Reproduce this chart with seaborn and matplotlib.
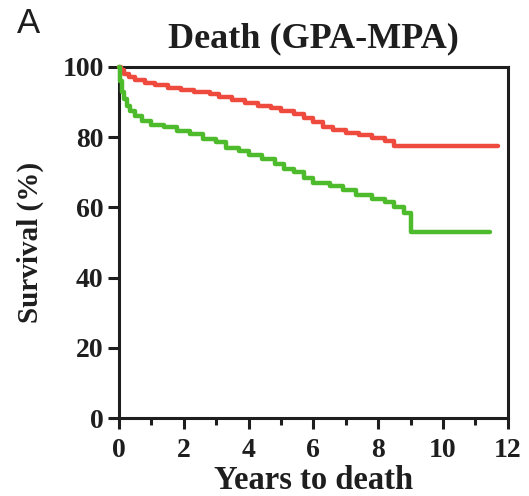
import matplotlib
matplotlib.use("Agg")
import matplotlib.pyplot as plt
import seaborn as sns
import pandas as pd
from matplotlib.ticker import MultipleLocator

sns.set_theme(style="ticks")
plt.rcParams['font.family'] = ['Liberation Serif', 'DejaVu Serif']

# Data (Kaplan-Meier step curves)
red_time = [0, 0.05, 0.15, 0.3, 0.5, 0.8, 1.1, 1.5, 1.9, 2.3, 2.8, 3.1, 3.5, 3.9, 4.3,
            4.7, 5.0, 5.4, 5.7, 6.0, 6.3, 6.6, 7.0, 7.4, 7.8, 8.2, 8.5, 11.7]
red_surv = [100, 99, 98, 97, 96.3, 95.5, 95, 94, 93.3, 92.8, 92.3, 91.5, 90.5, 89.8, 89,
            88.2, 87.5, 86.5, 85.5, 84.2, 83, 82, 81.2, 80.5, 79.8, 79, 77.6, 77.6]
green_time = [0, 0.03, 0.08, 0.15, 0.25, 0.35, 0.5, 0.7, 1.0, 1.4, 1.8, 2.2, 2.6, 3.0, 3.3,
              3.7, 4.0, 4.4, 4.8, 5.1, 5.4, 5.7, 6.0, 6.5, 6.9, 7.3, 7.8, 8.2, 8.5, 8.8,
              9.0, 11.45]
green_surv = [100, 96, 93, 91, 89, 87.5, 86, 84.5, 83.5, 82.8, 81.8, 80.8, 79.5, 78.5, 77,
              76, 75, 73.8, 72.5, 71, 70, 68.5, 67, 66.2, 65, 63.5, 62.5, 61.5, 60, 58.5,
              53, 53]
x_ticks = [0, 2, 4, 6, 8, 10, 12]
y_ticks = [0, 20, 40, 60, 80, 100]

df = pd.concat([
    pd.DataFrame({"t": red_time, "s": red_surv, "g": "red"}),
    pd.DataFrame({"t": green_time, "s": green_surv, "g": "green"}),
])

fig = plt.figure(figsize=(5.29, 4.96), dpi=100)
ax = fig.add_axes([0.225, 0.157, 0.735, 0.708])

sns.lineplot(data=df, x="t", y="s", hue="g", palette={"red": "#ef4a3e", "green": "#4dbb2c"},
             drawstyle="steps-post", linewidth=3.2, legend=False, ax=ax, estimator=None,
             sort=False, clip_on=False, zorder=3)

ax.set_xlim(0, 12)
ax.set_ylim(0, 100)
ax.set_xticks(x_ticks)
ax.set_yticks(y_ticks)
ax.xaxis.set_minor_locator(MultipleLocator(1))
for s in ax.spines.values():
    s.set_visible(True)
    s.set_linewidth(2.2)
    s.set_color("#1e1e1e")
ax.tick_params(axis="both", which="major", length=8, width=2.2, color="#1e1e1e",
               labelsize=20, pad=3)
ax.tick_params(axis="x", which="major", pad=6)
ax.tick_params(axis="x", which="minor", length=5, width=2.2, color="#1e1e1e")
for lab in ax.get_xticklabels() + ax.get_yticklabels():
    lab.set_fontweight("bold")
    lab.set_color("#1e1e1e")

ax.set_xlabel("Years to death", fontsize=23.5, fontweight="bold", color="#1e1e1e", labelpad=1.5)
ax.set_ylabel("Survival (%)", fontsize=21, fontweight="bold", color="#1e1e1e", labelpad=13)
ax.set_title("Death (GPA-MPA)", fontsize=26, fontweight="bold", color="#1e1e1e", pad=14)
fig.text(0.032, 0.952, "A", fontsize=25, family=["Liberation Sans", "DejaVu Sans"],
         color="#1e1e1e", va="center", ha="left")

fig.savefig("out.png", dpi=100, facecolor="white")
